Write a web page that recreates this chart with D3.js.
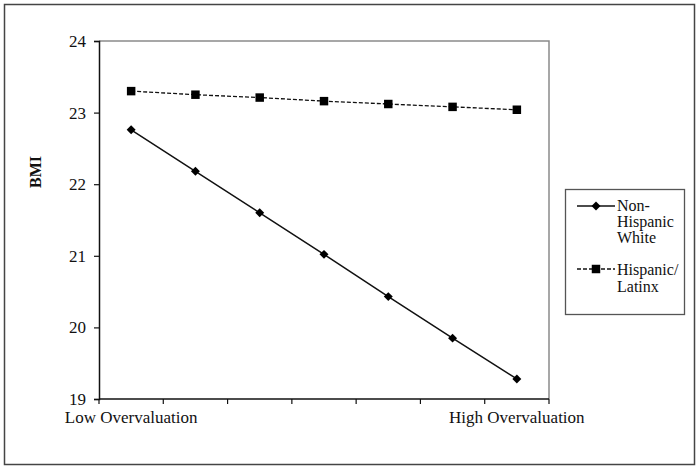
<!DOCTYPE html>
<html>
<head>
<meta charset="utf-8">
<script src="https://cdn.jsdelivr.net/npm/d3@7"></script>
<style>
  html, body { margin: 0; padding: 0; background: #fff; }
  svg { display: block; }
</style>
</head>
<body>
<svg id="chart" width="700" height="470" font-family="Liberation Serif"></svg>
<script>
const categories = ["c1", "c2", "c3", "c4", "c5", "c6", "c7"];
const xTickLabels = ["Low Overvaluation", "", "", "", "", "", "High Overvaluation"];
const nonHispanicWhite = [22.76, 22.18, 21.60, 21.02, 20.43, 19.85, 19.28];
const hispanicLatinx = [23.30, 23.25, 23.21, 23.16, 23.12, 23.08, 23.04];
const yTicks = [19, 20, 21, 22, 23, 24];
const yLabel = "BMI";
const seriesNames = [["Non-", "Hispanic", "White"], ["Hispanic/", "Latinx"]];

(function () {
const FONT = "Liberation Serif";
const svg = d3.select("#chart");

svg.append("rect").attr("x", 4.5).attr("y", 4.5).attr("width", 690).attr("height", 460)
  .attr("fill", "none").attr("stroke", "#444").attr("stroke-width", 1.5);

const pL = 99, pR = 549, pT = 41, pB = 399;

const x = d3.scaleBand().domain(categories).range([pL, pR]).padding(0);
const y = d3.scaleLinear().domain([19, 24]).range([pB, pT]);

svg.append("path")
  .attr("d", `M${pL},${pT}H${pR}V${pB}`)
  .attr("fill", "none").attr("stroke", "#8a8a8a").attr("stroke-width", 1.5);

const yAxis = svg.append("g").attr("transform", `translate(${pL},0)`)
  .call(d3.axisLeft(y).tickValues(yTicks).tickSize(5).tickPadding(8).tickFormat(d3.format("d")));
yAxis.attr("font-family", FONT).attr("font-size", 17);
yAxis.select(".domain").attr("stroke", "#111").attr("stroke-width", 1.5);
yAxis.selectAll(".tick line").attr("stroke", "#111").attr("stroke-width", 1.2);
yAxis.selectAll(".tick text").attr("font-family", FONT).attr("font-size", 17).attr("fill", "#111");

const xAxisG = svg.append("g").attr("transform", `translate(0,${pB})`);
xAxisG.append("line").attr("x1", pL).attr("x2", pR).attr("y1", 0).attr("y2", 0)
  .attr("stroke", "#111").attr("stroke-width", 1.5);
const boundaries = categories.map(c => x(c)).concat([x(categories[categories.length - 1]) + x.bandwidth()]);
xAxisG.selectAll("line.tk").data(boundaries).join("line").attr("class", "tk")
  .attr("x1", d => d).attr("x2", d => d).attr("y1", 0).attr("y2", 5)
  .attr("stroke", "#111").attr("stroke-width", 1.2);
xAxisG.selectAll("text.lbl").data(categories).join("text").attr("class", "lbl")
  .attr("x", d => x(d) + x.bandwidth() / 2).attr("y", 24)
  .attr("text-anchor", "middle").attr("font-family", FONT).attr("font-size", 17).attr("fill", "#111")
  .text((d, i) => xTickLabels[i]);

svg.append("text").attr("transform", "translate(41,172) rotate(-90)")
  .attr("text-anchor", "middle").attr("font-family", FONT).attr("font-size", 16).attr("font-weight", "bold")
  .attr("fill", "#111").text(yLabel);

const cx = d => x(d) + x.bandwidth() / 2;
const line = d3.line().x(d => cx(d[0])).y(d => y(d[1]));

const diamond = d3.symbol().type(d3.symbolSquare).size(40);
const square = d3.symbol().type(d3.symbolSquare).size(72);

const hisData = categories.map((c, i) => [c, hispanicLatinx[i]]);
svg.append("path").attr("d", line(hisData)).attr("fill", "none")
  .attr("stroke", "#111").attr("stroke-width", 1.3).attr("stroke-dasharray", "4,2");
svg.selectAll("path.sq").data(hisData).join("path").attr("class", "sq")
  .attr("d", square).attr("transform", d => `translate(${cx(d[0])},${y(d[1])})`).attr("fill", "#000");

const nhwData = categories.map((c, i) => [c, nonHispanicWhite[i]]);
svg.append("path").attr("d", line(nhwData)).attr("fill", "none")
  .attr("stroke", "#111").attr("stroke-width", 1.5);
svg.selectAll("path.dm").data(nhwData).join("path").attr("class", "dm")
  .attr("d", diamond).attr("transform", d => `translate(${cx(d[0])},${y(d[1])}) rotate(45)`).attr("fill", "#000");

const lg = svg.append("g").attr("font-family", FONT);
lg.append("rect").attr("x", 565.5).attr("y", 189.5).attr("width", 119).attr("height", 125)
  .attr("fill", "#fff").attr("stroke", "#555").attr("stroke-width", 1.3);
lg.append("line").attr("x1", 577).attr("x2", 615).attr("y1", 206).attr("y2", 206)
  .attr("stroke", "#111").attr("stroke-width", 1.5);
lg.append("path").attr("d", diamond).attr("transform", "translate(596,206) rotate(45)").attr("fill", "#000");
seriesNames[0].forEach((t, i) => {
  lg.append("text").attr("x", 617).attr("y", 211 + i * 16).attr("font-family", FONT).attr("font-size", 16).attr("fill", "#111").text(t);
});
lg.append("line").attr("x1", 577).attr("x2", 615).attr("y1", 269).attr("y2", 269)
  .attr("stroke", "#111").attr("stroke-width", 1.3).attr("stroke-dasharray", "4,2");
lg.append("path").attr("d", square).attr("transform", "translate(596,269)").attr("fill", "#000");
seriesNames[1].forEach((t, i) => {
  lg.append("text").attr("x", 617).attr("y", 275 + i * 17).attr("font-family", FONT).attr("font-size", 16).attr("fill", "#111").text(t);
});
})();
</script>
</body>
</html>
